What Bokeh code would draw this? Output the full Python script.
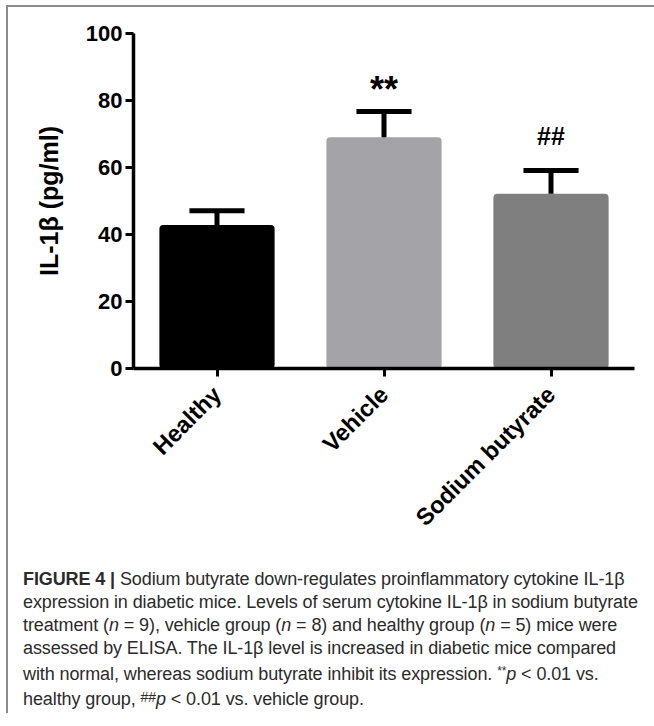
import math
from bokeh.plotting import figure
from bokeh.models import Range1d, FixedTicker, Div
from bokeh.layouts import column
from bokeh.embed import file_html
from bokeh.resources import INLINE
from bokeh.core.properties import value

# ---- data ----
categories = ["Healthy", "Vehicle", "Sodium butyrate"]
means = [42.8, 69.0, 52.2]
sem = [4.3, 7.7, 6.9]
bar_colors = ["#000000", "#a4a3a8", "#7f7f7f"]
y_ticks = [0, 20, 40, 60, 80, 100]
sig_marks = ["", "**", "##"]

xs = list(range(len(categories)))
upper = [m + s for m, s in zip(means, sem)]

FONT = "Liberation Sans"

p = figure(frame_width=501, frame_height=335,
           output_backend="svg", toolbar_location=None,
           x_range=Range1d(-0.5, len(categories) - 0.5),
           y_range=Range1d(0, 100),
           min_border_left=125, min_border_right=19,
           min_border_top=26, min_border_bottom=185)
p.outline_line_color = None
p.xgrid.visible = False
p.ygrid.visible = False
p.background_fill_color = "white"
p.border_fill_color = "white"

# bars
p.vbar(x=xs, top=means, width=0.69, fill_color=bar_colors, line_color=None,
       border_radius=4)

# error bars (upper only)
p.segment(x0=xs, y0=means, x1=xs, y1=upper, line_color="black", line_width=5)
p.rect(x=xs, y=upper, width=0.33, height=5, height_units="screen",
       fill_color="black", line_color=None)

# significance marks
star_idx = [i for i, s in enumerate(sig_marks) if s == "**"]
hash_idx = [i for i, s in enumerate(sig_marks) if s == "##"]
p.text(x=[xs[i] for i in star_idx], y=[upper[i] for i in star_idx],
       text=[sig_marks[i] for i in star_idx], y_offset=-22,
       text_font=value(FONT), text_font_style="bold", text_font_size="36px",
       text_align="center", text_baseline="alphabetic", text_color="black")
p.text(x=[xs[i] for i in hash_idx], y=[upper[i] for i in hash_idx],
       text=[sig_marks[i] for i in hash_idx], y_offset=-35,
       text_font=value(FONT), text_font_style="bold", text_font_size="25px",
       text_align="center", text_baseline="alphabetic", text_color="black")

# axes
for ax in (p.xaxis, p.yaxis):
    ax.axis_line_width = 3.5
    ax.axis_line_color = "black"
    ax.major_tick_line_width = 3
    ax.major_tick_line_color = "black"
    ax.major_tick_in = 0
    ax.major_tick_out = 8
    ax.minor_tick_line_color = None
    ax.major_label_text_font = FONT
    ax.major_label_text_font_style = "bold"
    ax.major_label_text_font_size = "22px"
    ax.major_label_text_color = "black"

p.yaxis.ticker = FixedTicker(ticks=y_ticks)
p.yaxis.major_label_standoff = 3
p.yaxis.axis_label = "IL-1β (pg/ml)"
p.yaxis.axis_label_text_font = FONT
p.yaxis.axis_label_text_font_style = "bold"
p.yaxis.axis_label_text_font_size = "25px"
p.yaxis.axis_label_text_color = "black"
p.yaxis.axis_label_standoff = 20

p.xaxis.ticker = FixedTicker(ticks=xs)
p.xaxis.major_label_overrides = {i: c for i, c in zip(xs, categories)}
p.xaxis.major_label_orientation = math.pi / 4
p.xaxis.major_label_standoff = 14
p.xaxis.major_label_text_font_size = "23.5px"

caption_html = (
    "<b>FIGURE 4 |</b> Sodium butyrate down-regulates proinflammatory cytokine IL-1β<br>"
    "expression in diabetic mice. Levels of serum cytokine IL-1β in sodium butyrate<br>"
    "treatment (<i>n</i> = 9), vehicle group (<i>n</i> = 8) and healthy group (<i>n</i> = 5) mice were<br>"
    "assessed by ELISA. The IL-1β level is increased in diabetic mice compared<br>"
    "with normal, whereas sodium butyrate inhibit its expression. "
    "<span style='font-size:12px;vertical-align:5px'>**</span><i>p</i> &lt; 0.01 vs.<br>"
    "healthy group, <span style='font-size:14px;vertical-align:3px'>##</span><i>p</i> &lt; 0.01 vs. vehicle group."
)
caption = Div(text=caption_html, width=640, height=150,
              styles={"font-family": "'Liberation Sans', sans-serif",
                      "font-size": "18px", "line-height": "23px",
                      "letter-spacing": "-0.1px",
                      "color": "#2b2b2b", "white-space": "nowrap",
                      "padding-left": "10px", "padding-top": "10px"})

layout = column(p, caption,
                styles={"border-left": "2px solid #8c8c8c",
                        "border-top": "2px solid #8c8c8c",
                        "background-color": "white",
                        "margin-left": "6px", "margin-top": "5px"})

open("out.html", "w").write(file_html(layout, INLINE))
